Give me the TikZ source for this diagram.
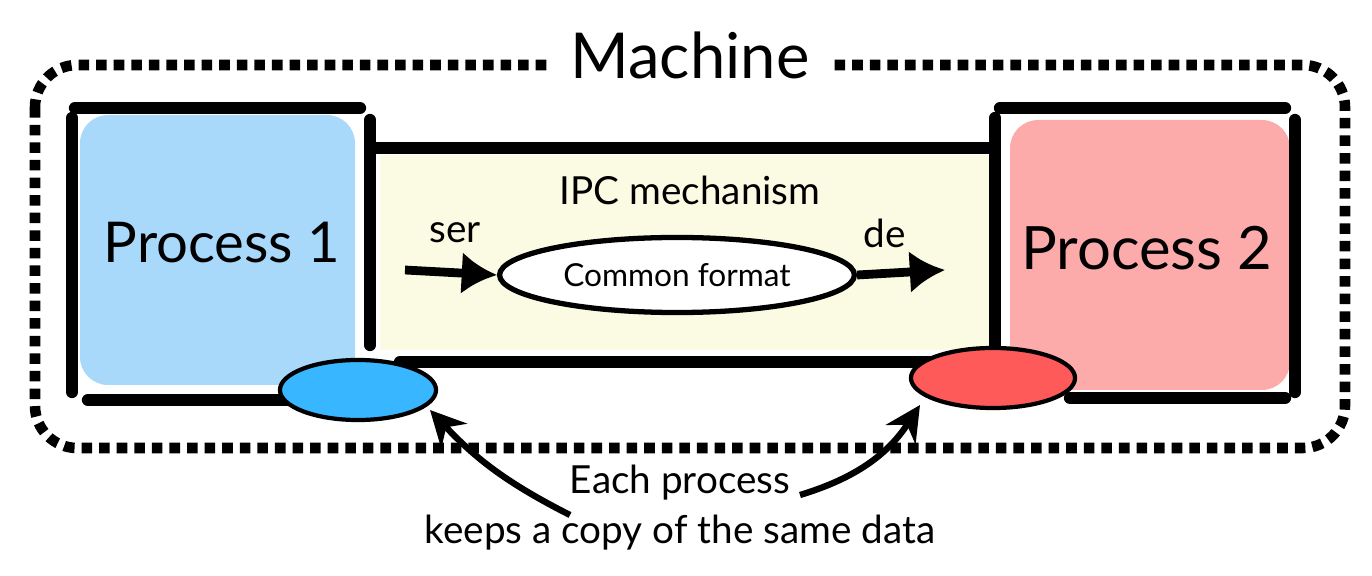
\documentclass[tikz,border=0pt]{standalone}
\usepackage{fontspec}
\setmainfont{Lato}
\usetikzlibrary{arrows.meta,shapes.geometric}
\definecolor{pblue}{HTML}{A8D8FA}
\definecolor{pred}{HTML}{FDAAAA}
\definecolor{ipcy}{HTML}{FBFAE2}
\definecolor{bblob}{HTML}{38B6FF}
\definecolor{rblob}{HTML}{FF5A5A}
\begin{document}
\begin{tikzpicture}[x=0.01cm,y=-0.01cm,
  edge/.style={line width=3.5pt,line cap=round},
  arr/.style={line width=2.5pt,-{Latex[length=10pt,width=12pt]}},
  carr/.style={line width=1.8pt,-{Stealth[length=10pt,width=10pt]}},
  lbl/.style={font=\fontsize{11}{13}\selectfont}]
\useasboundingbox (0,0) rectangle (1372,576);
% machine
\draw[line width=3pt,dotted,rounded corners=12pt] (35,65) rectangle (1345,448);
\node[fill=white,inner sep=6pt,font=\fontsize{18}{20}\selectfont] (mach) at (690,55) {Machine};
% IPC
\fill[ipcy] (380,155) rectangle (990,350);
\draw[edge] (375,148) -- (990,148);
\draw[edge] (400,362) -- (980,362);
% process 1
\fill[pblue,rounded corners=8pt] (80,115) rectangle (355,385);
\draw[edge] (75,108) -- (360,108);
\draw[edge] (88,400) -- (355,400);
\draw[edge] (72,118) -- (72,392);
\draw[edge] (370,120) -- (370,345);
\node[font=\fontsize{16}{18}\selectfont] (p1) at (222,243) {Process 1};
% process 2
\fill[pred,rounded corners=8pt] (1010,120) rectangle (1290,390);
\draw[edge] (1000,108) -- (1285,108);
\draw[edge] (1070,398) -- (1285,398);
\draw[edge] (995,118) -- (995,400);
\draw[edge] (1295,120) -- (1295,392);
\node[font=\fontsize{17}{19}\selectfont] (p2) at (1147,248) {Process 2};
% IPC content
\node[lbl] (ipc) at (690,190) {IPC mechanism};
\node[lbl] (ser) at (455,233) {ser};
\node[lbl] (de) at (885,233) {de};
\node[ellipse,draw,line width=1.5pt,fill=white,minimum width=3.05cm,minimum height=0.75cm,font=\fontsize{9}{11}\selectfont] (cf) at (677,275) {Common format};
\coordinate (a1) at (405,270);
\coordinate (a2) at (945,270);
\draw[arr] (a1) -- (cf.west);
\draw[arr] (cf.east) -- (a2);
% blobs
\node[ellipse,draw,line width=1.2pt,fill=bblob,minimum width=1.56cm,minimum height=0.6cm] (b1) at (358,390) {};
\node[ellipse,draw,line width=1.2pt,fill=rblob,minimum width=1.64cm,minimum height=0.6cm] (b2) at (993,378) {};
% bottom text
\node[lbl] (t1) at (680,483) {Each process};
\node[lbl] (t2) at (680,533) {keeps a copy of the same data};
\coordinate (s1) at (570,515);
\coordinate (s2) at (800,495);
\draw[carr] (s1) to[bend left=10] (430,410);
\draw[carr] (s2) to[bend right=20] (920,405);
\end{tikzpicture}
\end{document}
